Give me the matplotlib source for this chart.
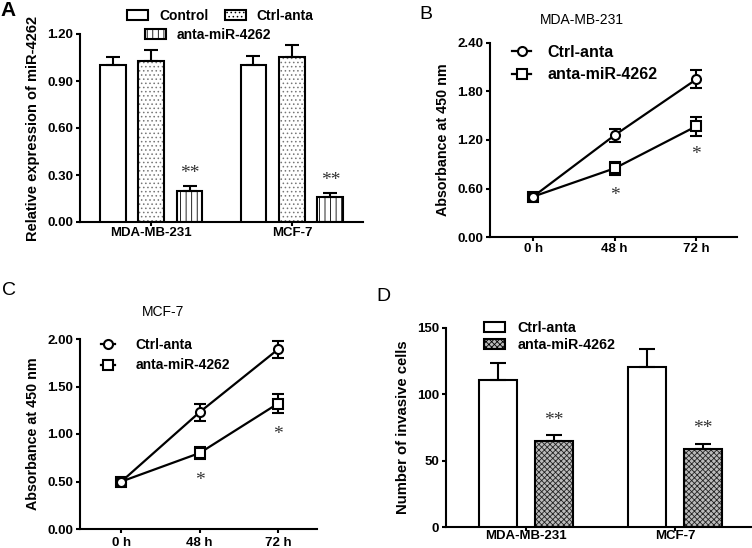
import numpy as np
import matplotlib
matplotlib.use("Agg")
from matplotlib import pyplot as plt
from matplotlib.patches import Patch
from matplotlib.lines import Line2D

plt.rcParams['font.family'] = ['Liberation Sans', 'DejaVu Sans']
plt.rcParams['hatch.linewidth'] = 0.6

# --- panel A: relative expression of miR-4262
cells_a = ['MDA-MB-231', 'MCF-7']
groups_a = ['Control', 'Ctrl-anta', 'anta-miR-4262']
expr = [[1.00, 1.00], [1.03, 1.05], [0.20, 0.16]]
expr_err = [[0.05, 0.06], [0.07, 0.08], [0.03, 0.025]]
stars_a = [0.33, 0.29]

# --- panels B, C: absorbance time course
times = ['0 h', '48 h', '72 h']
mda_ctrl = [0.50, 1.26, 1.95]
mda_ctrl_err = [0.03, 0.08, 0.11]
mda_anta = [0.50, 0.85, 1.37]
mda_anta_err = [0.03, 0.08, 0.12]
mda_stars = [0.56, 1.06]
mcf_ctrl = [0.50, 1.23, 1.89]
mcf_ctrl_err = [0.03, 0.09, 0.09]
mcf_anta = [0.50, 0.80, 1.32]
mcf_anta_err = [0.04, 0.06, 0.10]
mcf_stars = [0.55, 1.03]

# --- panel D: invasive cells
cells_d = ['MDA-MB-231', 'MCF-7']
inv_ctrl = [110.5, 120.5]
inv_ctrl_err = [13, 14]
inv_anta = [64.5, 58.5]
inv_anta_err = [5, 4]
stars_d = [83, 77]

W, H = 752, 548
fig = plt.figure(figsize=(W / 100, H / 100), dpi=100)


def box(left, top, right, bottom):
    return [left / W, 1 - bottom / H, (right - left) / W, (bottom - top) / H]


def style_axis(ax, xpad):
    for s in ['top', 'right']:
        ax.spines[s].set_visible(False)
    for s in ['left', 'bottom']:
        ax.spines[s].set_linewidth(1.5)
    ax.tick_params(width=1.5, length=3, labelsize=9.5)
    ax.tick_params(axis='y', pad=2)
    ax.tick_params(axis='x', pad=xpad)
    for lab in ax.get_xticklabels() + ax.get_yticklabels():
        lab.set_fontweight('bold')


def hbar(ax, x, h, w, hatch=None, face='white', hcol='#666666'):
    if hatch:
        ax.bar(x, h, w, color=face, edgecolor=hcol, hatch=hatch, linewidth=0, zorder=2)
        ax.bar(x, h, w, fill=False, edgecolor='black', linewidth=1.5, zorder=3)
    else:
        ax.bar(x, h, w, color='white', edgecolor='black', linewidth=1.5, zorder=3)


def star(ax, x, y, s):
    ax.annotate(s, (x, y), xytext=(0, -2.5), textcoords='offset points',
                ha='center', va='center', fontsize=14, color='#333333',
                family='Liberation Serif')


fx = lambda px: px / W
fy = lambda py: 1 - py / H

# ================= A =================
ax = fig.add_axes(box(80, 34, 363, 222))
xa = np.arange(len(cells_a))
offs = [-0.273, 0, 0.273]
bw = 0.184
hatches_a = [None, '....', '|||']
for i in range(3):
    hbar(ax, xa + offs[i], expr[i], bw, hatch=hatches_a[i], hcol='#777777' if i == 1 else 'black')
    ax.errorbar(xa + offs[i], expr[i], yerr=[np.zeros(2), expr_err[i]], fmt='none',
                ecolor='black', elinewidth=1.5, capsize=5, capthick=1.5, zorder=4)
for j in range(2):
    star(ax, xa[j] + offs[2], stars_a[j], '**')
ax.set_xlim(-0.504, 1.504)
ax.set_ylim(0, 1.2)
ax.set_yticks([0, 0.3, 0.6, 0.9, 1.2])
ax.set_yticklabels(['%.2f' % v for v in [0, 0.3, 0.6, 0.9, 1.2]])
ax.set_xticks(xa)
ax.set_xticklabels(cells_a)
ax.set_ylabel('Relative expression of miR-4262', fontsize=10.5, fontweight='bold', labelpad=5)
style_axis(ax, 0.3)
ha = [Patch(facecolor='white', edgecolor='black', linewidth=1.5),
      Patch(facecolor='white', edgecolor='black', linewidth=1.5, hatch='....'),
      Patch(facecolor='white', edgecolor='black', linewidth=1.5, hatch='|||')]
leg1 = ax.legend(ha[:2], groups_a[:2], ncol=2, loc='center left',
                 bbox_to_anchor=(fx(127), fy(16)), bbox_transform=fig.transFigure,
                 frameon=False, borderpad=0, borderaxespad=0, handlelength=1.5,
                 handletextpad=0.8, columnspacing=1.2, prop={'weight': 'bold', 'size': 10})
ax.add_artist(leg1)
ax.legend(ha[2:], groups_a[2:], loc='center left',
          bbox_to_anchor=(fx(145), fy(35)), bbox_transform=fig.transFigure,
          frameon=False, borderpad=0, borderaxespad=0, handlelength=1.5,
          handletextpad=0.8, prop={'weight': 'bold', 'size': 10})
fig.text(fx(0), fy(16), 'A', fontsize=15, fontweight='bold', va='baseline')


# ================= B / C =================
def line_panel(rect, ctrl, ctrl_err, anta, anta_err, stars, ymax, yticks, title, title_x,
               title_y, leg_x, leg_y, leg_size, letter, letter_xy, hl, htp, xpad):
    ax = fig.add_axes(rect)
    xt = np.arange(len(times))
    kw = dict(color='black', lw=1.6, ms=6.5, mfc='white', mec='black', mew=1.5,
              capsize=4, capthick=1.5, elinewidth=1.5)
    ax.errorbar(xt, ctrl, yerr=ctrl_err, marker='o', zorder=4, **kw)
    ax.errorbar(xt, anta, yerr=anta_err, marker='s', zorder=3, **kw)
    for j in range(2):
        star(ax, xt[j + 1], stars[j], '*')
    ax.set_xlim(-0.53, 2.5)
    ax.set_ylim(0, ymax)
    ax.set_yticks(yticks)
    ax.set_yticklabels(['%.2f' % v for v in yticks])
    ax.set_xticks(xt)
    ax.set_xticklabels(times)
    ax.set_ylabel('Absorbance at 450 nm', fontsize=10.3, fontweight='bold', labelpad=5)
    style_axis(ax, xpad)
    hd = [Line2D([], [], color='black', lw=1.6, marker='o', ms=6.5, mfc='white', mew=1.5),
          Line2D([], [], color='black', lw=1.6, marker='s', ms=6.5, mfc='white', mew=1.5)]
    ax.legend(hd, ['Ctrl-anta', 'anta-miR-4262'], loc='center left',
              bbox_to_anchor=(fx(leg_x), fy(leg_y)), bbox_transform=fig.transFigure,
              frameon=False, borderpad=0, borderaxespad=0, handlelength=hl,
              handletextpad=htp, labelspacing=0.5, numpoints=1,
              prop={'weight': 'bold', 'size': leg_size})
    fig.text(fx(title_x), fy(title_y), title, fontsize=10, ha='center', va='center')
    fig.text(fx(letter_xy[0]), fy(letter_xy[1]), letter, fontsize=14, va='baseline')


line_panel(box(490, 43, 737, 237), mda_ctrl, mda_ctrl_err, mda_anta, mda_anta_err, mda_stars,
           2.4, [0, 0.6, 1.2, 1.8, 2.4], 'MDA-MB-231', 582, 20, 512, 63.5, 11.5, 'B', (419, 19),
           1.2, 1.0, 1.0)
line_panel(box(80, 339, 317, 529), mcf_ctrl, mcf_ctrl_err, mcf_anta, mcf_anta_err, mcf_stars,
           2.0, [0, 0.5, 1.0, 1.5, 2.0], 'MCF-7', 163, 312, 101, 355, 10, 'C', (2, 295),
           1.0, 1.5, 2.4)

# ================= D =================
ax = fig.add_axes(box(446, 328, 752, 527))
xd = np.arange(len(cells_d))
hbar(ax, xd - 0.185, inv_ctrl, 0.255)
hbar(ax, xd + 0.185, inv_anta, 0.255, hatch='xxxxxx', face='#bbbbbb', hcol='#222222')
ax.errorbar(xd - 0.185, inv_ctrl, yerr=[np.zeros(2), inv_ctrl_err], fmt='none',
            ecolor='black', elinewidth=1.5, capsize=6, capthick=1.5, zorder=4)
ax.errorbar(xd + 0.185, inv_anta, yerr=[np.zeros(2), inv_anta_err], fmt='none',
            ecolor='black', elinewidth=1.5, capsize=6, capthick=1.5, zorder=4)
for j in range(2):
    star(ax, xd[j] + 0.185, stars_d[j], '**')
ax.set_xlim(-0.537, 1.517)
ax.set_ylim(0, 150)
ax.set_yticks([0, 50, 100, 150])
ax.set_xticks(xd)
ax.set_xticklabels(cells_d)
ax.set_ylabel('Number of invasive cells', fontsize=10.7, fontweight='bold', labelpad=5)
style_axis(ax, -0.5)
hd = [Patch(facecolor='white', edgecolor='black', linewidth=1.5),
      Patch(facecolor='#bbbbbb', edgecolor='black', linewidth=1.5, hatch='xxxxxx')]
ax.legend(hd, ['Ctrl-anta', 'anta-miR-4262'], loc='center left',
          bbox_to_anchor=(fx(484), fy(336.5)), bbox_transform=fig.transFigure,
          frameon=False, borderpad=0, borderaxespad=0, handlelength=1.45,
          handletextpad=0.9, labelspacing=0.2, prop={'weight': 'bold', 'size': 10.3})
fig.text(fx(376), fy(301), 'D', fontsize=14, va='baseline')

fig.savefig('out.png', dpi=100)
